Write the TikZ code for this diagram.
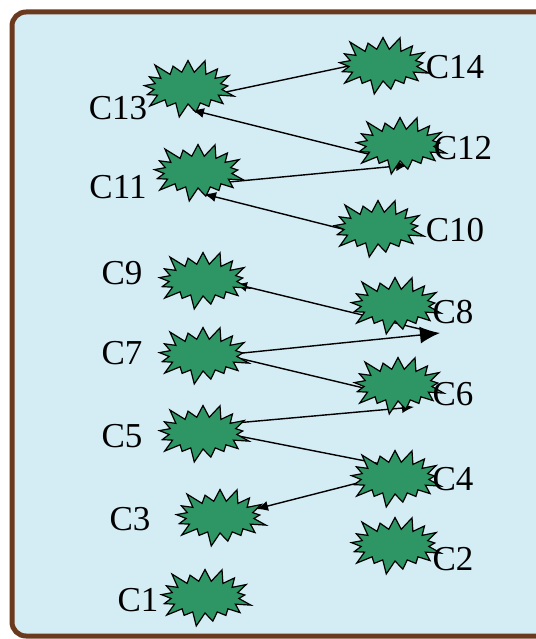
\documentclass[tikz,border=0pt]{standalone}
\usepackage{fontspec}
\setmainfont{Liberation Serif}
\usetikzlibrary{shapes.symbols,arrows.meta}
\definecolor{framebrown}{RGB}{107,58,30}
\definecolor{panelblue}{RGB}{212,236,243}
\definecolor{burstgreen}{RGB}{46,150,100}

\begin{document}
\begin{tikzpicture}[x=1pt,y=-1pt,
    burst/.style={starburst, starburst points=17, starburst point height=16pt,
      draw=black, line width=1.2pt, fill=burstgreen,
      minimum width=100pt, minimum height=64pt, inner sep=0pt},
    lbl/.style={font=\fontsize{35}{40}\selectfont, inner sep=0pt},
    link/.style={-{Latex[length=12pt,width=10pt]}, line width=1.4pt},
    biglink/.style={-{Latex[length=20pt,width=17pt]}, line width=1.4pt}]
   \useasboundingbox (0,0) rectangle (535,639);
   % frame
   \draw[framebrown, line width=5pt, fill=panelblue, rounded corners=14pt]
      (12,12) rectangle (560,636);
   % centres of the bursts
   \path (383,65) coordinate (p14) (188,88) coordinate (p13)
         (400,145) coordinate (p12) (198,172) coordinate (p11)
         (378,228) coordinate (p10) (203,280) coordinate (p9)
         (395,305) coordinate (p8) (203,355) coordinate (p7)
         (398,385) coordinate (p6) (203,433) coordinate (p5)
         (395,478) coordinate (p4) (220,517) coordinate (p3)
         (395,545) coordinate (p2) (205,597) coordinate (p1);
   \coordinate (c8in) at (440,333);
   % edges below the bursts
   \draw[link] ([shift={(0,12)}]p13) -- ([shift={(-20,-2)}]p14);
   \draw[link] ([shift={(-20,12)}]p12) -- ([shift={(4,22)}]p13);
   \draw[link] ([shift={(10,12)}]p11) -- ([shift={(8,20)}]p12);
   \draw[link] ([shift={(-20,5)}]p10) -- ([shift={(6,22)}]p11);
   \draw[link] ([shift={(-12,-2)}]c8in) -- ([shift={(32,4)}]p9);
   \draw[biglink] ([shift={(20,0)}]p7) -- (c8in);
   \draw[link] ([shift={(10,-3)}]p7) -- ([shift={(-5,10)}]p6);
   \draw[link] ([shift={(10,-8)}]p5) -- ([shift={(16,22)}]p6);
   \draw[link] ([shift={(10,-2)}]p5) -- ([shift={(-4,-12)}]p4);
   \draw[link] ([shift={(-10,-2)}]p4) -- ([shift={(36,-8)}]p3);
   % bursts
   \foreach \i in {1,...,14}
      \node[burst] (c\i) at (p\i) {};
   % labels
   \node[lbl] (l14) at (455,67) {C14};
   \node[lbl] (l13) at (118,108) {C13};
   \node[lbl] (l12) at (463,148) {C12};
   \node[lbl] (l11) at (118,187) {C11};
   \node[lbl] (l10) at (455,230) {C10};
   \node[lbl] (l9) at (122,273) {C9};
   \node[lbl] (l8) at (453,312) {C8};
   \node[lbl] (l7) at (122,353) {C7};
   \node[lbl] (l6) at (453,394) {C6};
   \node[lbl] (l5) at (122,436) {C5};
   \node[lbl] (l4) at (453,479) {C4};
   \node[lbl] (l3) at (130,519) {C3};
   \node[lbl] (l2) at (453,559) {C2};
   \node[lbl] (l1) at (138,600) {C1};
\end{tikzpicture}
\end{document}
